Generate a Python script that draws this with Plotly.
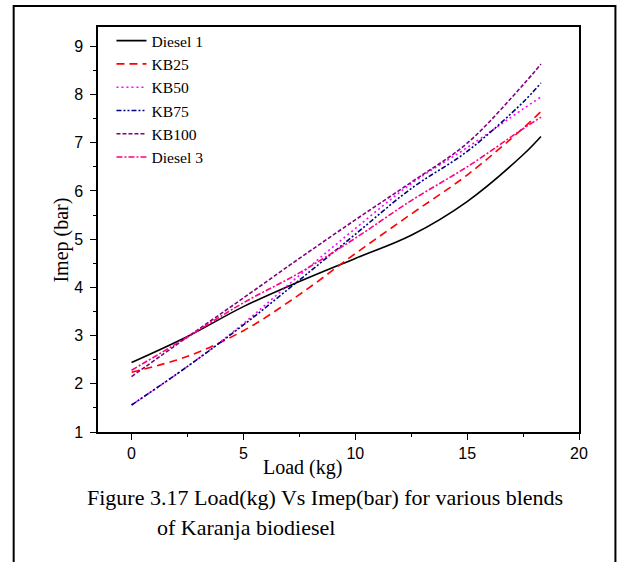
import plotly.graph_objects as go

# ---- data ----
load = [0, 2.5, 5, 7.5, 10, 12.5, 15, 17.5, 18.3]
diesel1 = [2.44, 2.98, 3.60, 4.12, 4.60, 5.08, 5.78, 6.75, 7.13]
kb25 = [2.24, 2.57, 3.10, 3.85, 4.70, 5.52, 6.33, 7.30, 7.65]
kb50 = [1.56, 2.36, 3.25, 4.25, 5.22, 6.15, 6.90, 7.70, 7.95]
kb75 = [1.56, 2.36, 3.22, 4.15, 5.10, 6.05, 6.82, 7.84, 8.24]
kb100 = [2.15, 2.97, 3.78, 4.60, 5.40, 6.18, 6.99, 8.20, 8.63]
diesel3 = [2.28, 2.97, 3.68, 4.30, 5.02, 5.80, 6.50, 7.29, 7.53]

names = ["Diesel 1", "KB25", "KB50", "KB75", "KB100", "Diesel 3"]
series = [diesel1, kb25, kb50, kb75, kb100, diesel3]
colors = ["#000000", "#ff0000", "#ff00ff", "#000080", "#800080", "#ff0080"]
dashes = ["solid", "8px,5px", "2px,3px", "5px,2px,2px,2px,2px,2px", "4px,2px", "6px,2px,2px,2px"]

x_ticks = [0, 5, 10, 15, 20]
y_ticks = [1, 2, 3, 4, 5, 6, 7, 8, 9]

# plot area in pixels
L, R, T, B = 97.5, 579.5, 27, 432
W, H = 622, 562


def px(x):
    return (x - L) / (R - L)


def py(y):
    return (B - y) / (B - T)


fig = go.Figure()
for n, s, c, d in zip(names, series, colors, dashes):
    fig.add_trace(go.Scatter(
        x=load, y=s, name=n, mode="lines",
        line=dict(color=c, dash=d, width=1.6, shape="spline", smoothing=1.0),
    ))

serif = "Liberation Serif, Times New Roman, serif"
sans = "Liberation Sans, Arial, sans-serif"

fig.update_layout(
    width=W, height=H,
    margin=dict(l=L, r=W - R, t=T, b=H - B),
    paper_bgcolor="white", plot_bgcolor="white",
    showlegend=True,
    legend=dict(
        x=px(111), y=py(24), xanchor="left", yanchor="top",
        bgcolor="rgba(0,0,0,0)", borderwidth=0,
        font=dict(family=serif, size=15.6, color="black"),
        tracegroupgap=0,
    ),
    xaxis=dict(
        range=[-1.5, 20], tickvals=x_ticks, ticktext=[str(v) for v in x_ticks],
        ticks="outside", ticklen=6, tickwidth=1.2, tickcolor="black",
        minor=dict(dtick=2.5, ticks="outside", ticklen=3, tickcolor="black", showgrid=False),
        showline=True, linecolor="black", linewidth=1.5, mirror=True,
        showgrid=False, zeroline=False,
        tickfont=dict(family=sans, size=16, color="black"),
    ),
    yaxis=dict(
        range=[1, 9.4], tickvals=y_ticks, ticktext=[str(v) for v in y_ticks],
        ticks="outside", ticklen=6, tickwidth=1.2, tickcolor="black",
        minor=dict(dtick=0.5, ticks="outside", ticklen=3, tickcolor="black", showgrid=False),
        showline=True, linecolor="black", linewidth=1.5, mirror=True,
        showgrid=False, zeroline=False, ticklabelstandoff=4,
        tickfont=dict(family=sans, size=16, color="black"),
    ),
)

# outer frame
fig.add_shape(type="rect", xref="paper", yref="paper",
              x0=px(13), x1=px(616), y0=py(575), y1=py(6),
              line=dict(color="black", width=2), fillcolor="rgba(0,0,0,0)", layer="below")

annots = [
    dict(text="Load (kg)", x=px(302), y=py(467), size=20, angle=0),
    dict(text="Imep (bar)", x=px(60), y=py(240), size=20, angle=-90),
    dict(text="Figure 3.17 Load(kg) Vs Imep(bar) for various blends", x=px(325), y=py(497), size=22, angle=0),
    dict(text="of Karanja biodiesel", x=px(246), y=py(527), size=22, angle=0),
]
for a in annots:
    fig.add_annotation(text=a["text"], x=a["x"], y=a["y"], xref="paper", yref="paper",
                       showarrow=False, textangle=a["angle"], xanchor="center", yanchor="middle",
                       font=dict(family=serif, size=a["size"], color="black"))

fig.write_html("out.html")
